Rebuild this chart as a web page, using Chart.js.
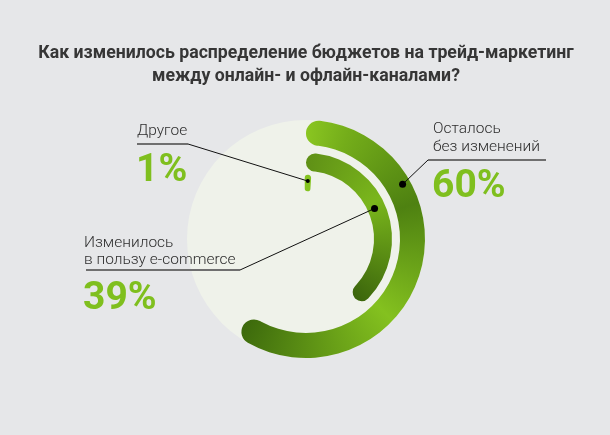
<!DOCTYPE html>
<html lang="ru">
<head>
<meta charset="utf-8">
<title>Бюджеты на трейд-маркетинг</title>
<script src="https://cdn.jsdelivr.net/npm/chart.js@4.4.1/dist/chart.umd.min.js"></script>
<style>
    html, body {
        margin: 0;
        padding: 0;
        background: #e6e7e9;
    }
    #wrap {
        position: relative;
        width: 610px;
        height: 435px;
    }
</style>
</head>
<body>
<div id="wrap"><canvas id="budgetChart"></canvas></div>
<script>
// Chart data
const titleLines = [
    'Как изменилось распределение бюджетов на трейд-маркетинг',
    'между онлайн- и офлайн-каналами?'
];
const categories = ['Осталось без изменений', 'Изменилось в пользу e-commerce', 'Другое'];
const labelLines = [
    ['Осталось', 'без изменений'],
    ['Изменилось', 'в пользу e-commerce'],
    ['Другое']
];
const shares = [60, 39, 1];
const total = 100;

const GREEN = '#7fbf1e';

/* ========================================
   Ring styling
   ======================================== */

// conic colour stops for each ring (fraction of full turn from 12 o'clock)
const ringStops = [
    [[0, '#8ac621'], [0.06, '#74ad1a'], [0.2, '#4e8111'], [0.37, '#84c11f'], [0.6, '#3c690c']],
    [[0, '#5f9016'], [0.17, '#7ab61c'], [0.39, '#3b650c']],
    [[0, '#84c320'], [1, '#84c320']]
];
const ringWeights = [25, 18, 14];
const gapWeights = [8, 5];

function ringColor(ringIndex) {
    return function(context) {
        if (context.dataIndex !== 0) return 'rgba(0,0,0,0)';
        const chart = context.chart;
        const area = chart.chartArea;
        if (!area) return ringStops[ringIndex][0][1];
        const cx = (area.left + area.right) / 2;
        const cy = (area.top + area.bottom) / 2;
        const g = chart.ctx.createConicGradient(-Math.PI / 2, cx, cy);
        ringStops[ringIndex].forEach(s => g.addColorStop(s[0], s[1]));
        return g;
    };
}

function ringDataset(i, edge) {
    const half = ringWeights[i] / 2;
    return {
        label: categories[i],
        data: [shares[i], total - shares[i]],
        weight: ringWeights[i],
        backgroundColor: ringColor(i),
        // a thin stroke widens the very short 1% arc into a pill
        borderColor: ringStops[i][0][1],
        borderWidth: function(context) {
            return context.dataIndex === 0 ? (edge || 0) : 0;
        },
        borderJoinStyle: 'round',
        hoverBorderWidth: 0,
        borderRadius: function(context) {
            return context.dataIndex === 0 ? half : 0;
        }
    };
}

function gapDataset(w) {
    return {
        data: [total],
        weight: w,
        backgroundColor: 'rgba(0,0,0,0)',
        borderWidth: 0,
        hoverBorderWidth: 0
    };
}

/* ========================================
   Plugins
   ======================================== */

// light disc behind the rings
const discPlugin = {
    id: 'disc',
    beforeDatasetsDraw(chart) {
        const arc = chart.getDatasetMeta(0).data[0];
        if (!arc) return;
        const ctx = chart.ctx;
        ctx.save();
        ctx.fillStyle = '#eff2ea';
        ctx.beginPath();
        ctx.arc(arc.x, arc.y, arc.outerRadius, 0, Math.PI * 2);
        ctx.fill();
        ctx.restore();
    }
};

// label blocks: text, underline, leader line to a point on the ring
const labelSetup = [
    { ring: 0, x: 433, lineY: [133, 151], pctY: 197, under: [428, 546, 160], from: 'left',  t: 0.28, r: 0.68, dot: 3.5 },
    { ring: 2, x: 84,  lineY: [247, 264], pctY: 309, under: [86, 240, 270],  from: 'right', t: 0.47, r: 0.39, dot: 3.5 },
    { ring: 4, x: 137, lineY: [135],      pctY: 181, under: [137, 188, 144], from: 'right', t: 0.5,  r: 0.64, dot: 2 }
];

const calloutPlugin = {
    id: 'callouts',
    afterDatasetsDraw(chart) {
        const ctx = chart.ctx;
        ctx.save();
        labelSetup.forEach((cfg, i) => {
            const arc = chart.getDatasetMeta(cfg.ring).data[0];
            const p = arc.getProps(['x', 'y', 'startAngle', 'endAngle', 'innerRadius', 'outerRadius'], true);
            const a = p.startAngle + cfg.t * (p.endAngle - p.startAngle);
            const rad = p.innerRadius + cfg.r * (p.outerRadius - p.innerRadius);
            const dx = p.x + Math.cos(a) * rad;
            const dy = p.y + Math.sin(a) * rad;

            // category text
            ctx.fillStyle = '#2e2e2e';
            ctx.font = '300 15.5px Roboto';
            ctx.textAlign = 'left';
            ctx.textBaseline = 'alphabetic';
            labelLines[i].forEach((txt, k) => ctx.fillText(txt, cfg.x, cfg.lineY[k]));

            // percentage
            ctx.fillStyle = GREEN;
            ctx.font = '700 39px Roboto';
            ctx.fillText(shares[i] + '%', cfg.x - 1, cfg.pctY);

            // underline
            const [ux1, ux2, uy] = cfg.under;
            ctx.strokeStyle = '#6f6f6f';
            ctx.lineWidth = 2;
            ctx.beginPath();
            ctx.moveTo(ux1, uy);
            ctx.lineTo(ux2, uy);
            ctx.stroke();

            // leader
            ctx.strokeStyle = '#111111';
            ctx.lineWidth = 1;
            ctx.beginPath();
            ctx.moveTo(cfg.from === 'left' ? ux1 : ux2, uy);
            ctx.lineTo(dx, dy);
            ctx.stroke();

            ctx.fillStyle = '#000000';
            ctx.beginPath();
            ctx.arc(dx, dy, cfg.dot, 0, Math.PI * 2);
            ctx.fill();
        });
        ctx.restore();
    }
};

/* ========================================
   Chart
   ======================================== */

new Chart(document.getElementById('budgetChart'), {
    type: 'doughnut',
    data: {
        labels: ['share', 'rest'],
        datasets: [
            ringDataset(0),
            gapDataset(gapWeights[0]),
            ringDataset(1),
            gapDataset(gapWeights[1]),
            ringDataset(2, 2.5)
        ]
    },
    options: {
        responsive: true,
        maintainAspectRatio: false,
        animation: false,
        events: [],
        cutout: '41.2%',
        radius: 119,
        rotation: 0,
        circumference: 360,
        layout: {
            padding: { top: 0, left: 2, right: 0, bottom: 77 }
        },
        plugins: {
            legend: { display: false },
            tooltip: { enabled: false },
            title: {
                display: true,
                text: titleLines,
                color: '#363636',
                font: { family: 'Roboto', size: 17.7, weight: 'bold', lineHeight: 1.3 },
                padding: { top: 42, bottom: 32 }
            }
        }
    },
    plugins: [discPlugin, calloutPlugin]
});
</script>
</body>
</html>
